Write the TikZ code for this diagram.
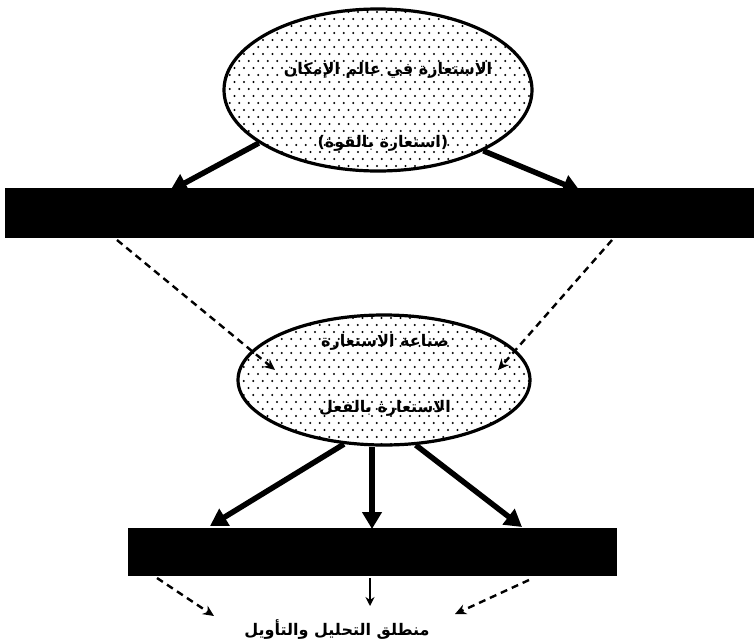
\documentclass[tikz,border=0pt]{standalone}
\usepackage{fontspec}
\TeXXeTstate=1
\newfontfamily\arabicfont[Script=Arabic]{DejaVu Sans Bold}
\usetikzlibrary{arrows.meta,shapes.geometric,calc}
\tikzset{
  bubble/.style={ellipse, draw, line width=3.2pt, fill=white, inner sep=0},
  bar/.style={rectangle, fill=black, inner sep=0},
  bigarrow/.style={line width=5.5pt, -{Triangle[length=17pt,width=19pt]}},
  dasharrow/.style={line width=2.4pt, dash pattern=on 7pt off 5pt, -{Stealth[length=11pt,width=10pt]}},
  lbl/.style={font=\arabicfont\fontsize{16}{19}\selectfont, inner sep=0}
}
% staggered dot texture clipped to an ellipse
\newcommand{\stipple}[5]{% centre x, centre y, x radius, y radius, rows
  \begin{scope}
    \clip (#1,#2) ellipse [x radius=#3, y radius=#4];
    \foreach \r [evaluate=\r as \off using {mod(\r,2)*4.75}] in {0,...,#5}{
      \foreach \c in {0,...,34}{
        \fill ({#1-#3+\c*9.5+\off},{#2-#4+2+\r*7}) circle[radius=1.05];
      }
    }
  \end{scope}}
\begin{document}
\begin{tikzpicture}[x=1pt,y=-1pt]
  \useasboundingbox (0,0) rectangle (754,642);

  % ellipses and bars
  \node[bubble, minimum width=308, minimum height=162] (top) at (378,90) {};
  \node[bubble, minimum width=292, minimum height=130] (mid) at (384,380) {};
  \stipple{378}{90}{153}{80}{24}
  \stipple{384}{380}{145}{64}{19}
  \node[bar, minimum width=749, minimum height=50] (barA) at (379.5,213) {};
  \node[bar, minimum width=489, minimum height=48] (barB) at (372.5,552) {};

  % labels
  \node[lbl] (t1) at (388,70) {\beginR الاستعارة في عالم الإمكان\endR};
  \node[lbl] (t2) at (383,143) {\beginR (استعارة بالقوة)\endR};
  \node[lbl] (m1) at (385,342) {\beginR صناعة الاستعارة\endR};
  \node[lbl] (m2) at (385,408) {\beginR الاستعارة بالفعل\endR};
  \node[lbl] (base) at (337,630) {\beginR منطلق التحليل والتأويل\endR};

  % arrow end points
  \coordinate (a1) at (170,191);
  \coordinate (a2) at (580,191);
  \coordinate (d1s) at (117,240);
  \coordinate (d1e) at (275,370);
  \coordinate (d2s) at (612,240);
  \coordinate (d2e) at (498,370);
  \coordinate (b1) at (210,526);
  \coordinate (b2) at (372,529);
  \coordinate (b3) at (522,527);
  \coordinate (e1s) at (157,578);
  \coordinate (e1e) at (214,616);
  \coordinate (e2s) at (370,578);
  \coordinate (e2e) at (370,606);
  \coordinate (e3s) at (529,580);
  \coordinate (e3e) at (455,614);

  % solid arrows
  \draw[bigarrow] (top.204) -- (a1);
  \draw[bigarrow] (top.330) -- (a2);
  \draw[bigarrow] (mid.238) -- (b1);
  \draw[bigarrow] (mid.south -| b2) -- (b2);
  \draw[bigarrow] (mid.296) -- (b3);

  % dashed arrows
  \draw[dasharrow] (d1s) -- (d1e);
  \draw[dasharrow] (d2s) -- (d2e);
  \draw[dasharrow] (e1s) -- (e1e);
  \draw[line width=1.8pt, -{Stealth[length=9pt,width=9pt]}] (e2s) -- (e2e);
  \draw[dasharrow] (e3s) -- (e3e);
\end{tikzpicture}
\end{document}
